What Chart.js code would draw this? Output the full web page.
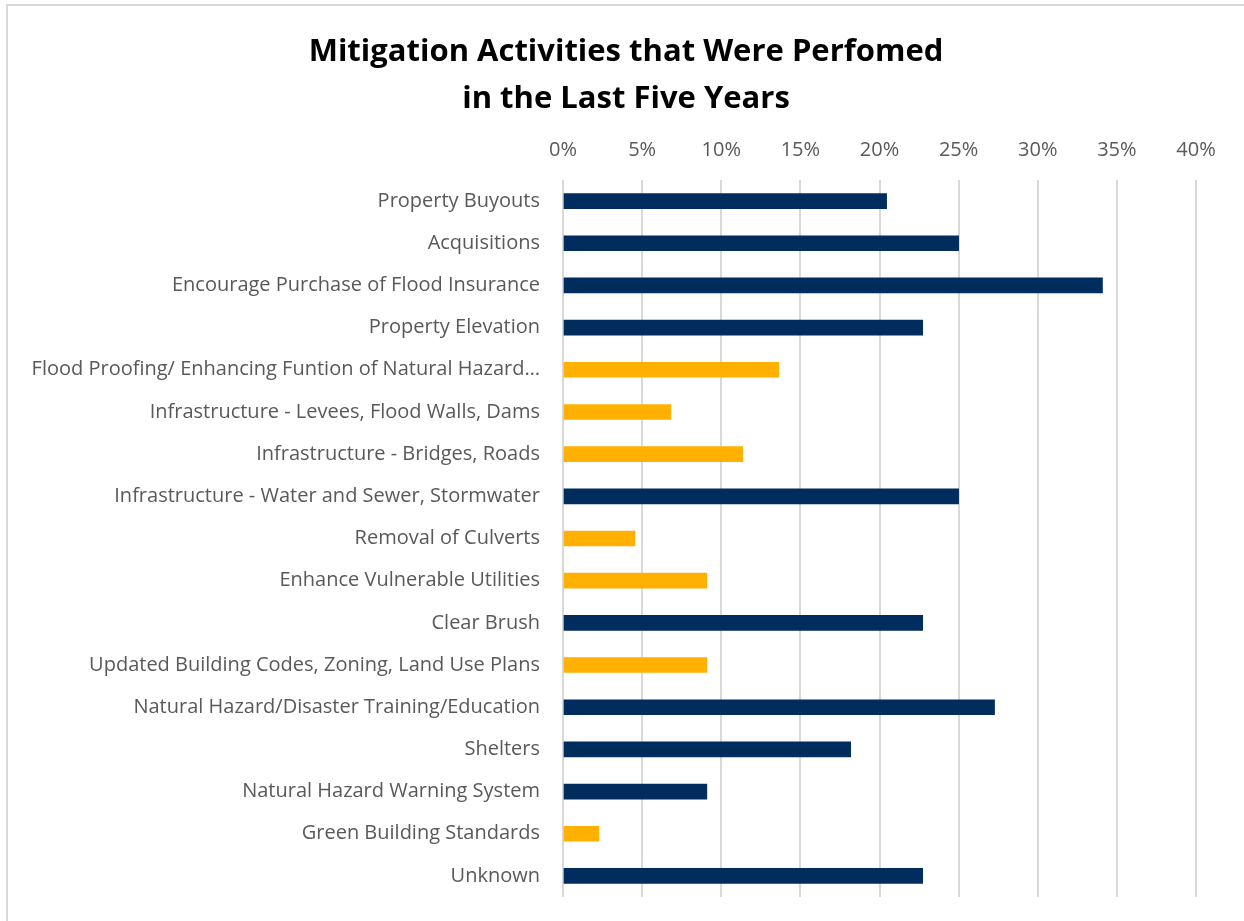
<!DOCTYPE html>
<html>
<head>
<meta charset="utf-8">
<title>Mitigation Activities</title>
<script src="https://cdn.jsdelivr.net/npm/chart.js@4.4.1/dist/chart.umd.min.js"></script>
<style>
  body { margin: 0; background: #fff; overflow: hidden; }
  #frame { position: absolute; left: 6px; top: 4px; width: 1300px; height: 1000px;
           border-left: 2px solid #D9D9D9; border-top: 2px solid #D9D9D9; }
  #chart { position: absolute; left: 0; top: 0; }
  #title { position: absolute; left: 0; top: 26px; width: 1252px; margin: 0; text-align: center;
           font: bold 31px/47px "Open Sans", Lato, sans-serif; color: #000; }
</style>
</head>
<body>
<div id="frame"></div>
<canvas id="chart" width="1244" height="921"></canvas>
<h1 id="title">Mitigation Activities that Were Perfomed<br>in the Last Five Years</h1>
<script>
// survey responses, share of respondents (n = 44)
const activities = [
  'Property Buyouts',
  'Acquisitions',
  'Encourage Purchase of Flood Insurance',
  'Property Elevation',
  'Flood Proofing/ Enhancing Funtion of Natural Hazard\u2026',
  'Infrastructure - Levees, Flood Walls, Dams',
  'Infrastructure - Bridges, Roads',
  'Infrastructure - Water and Sewer, Stormwater',
  'Removal of Culverts',
  'Enhance Vulnerable Utilities',
  'Clear Brush',
  'Updated Building Codes, Zoning, Land Use Plans',
  'Natural Hazard/Disaster Training/Education',
  'Shelters',
  'Natural Hazard Warning System',
  'Green Building Standards',
  'Unknown'
];
const shares = [20.45, 25.0, 34.09, 22.73, 13.64, 6.82, 11.36, 25.0, 4.55, 9.09, 22.73, 9.09, 27.27, 18.18, 9.09, 2.27, 22.73];
// true = highlighted in gold
const highlighted = [false, false, false, false, true, true, true, false, true, true, false, true, false, false, false, true, false];
const xTicks = [0, 5, 10, 15, 20, 25, 30, 35, 40];

const NAVY = '#002D5E';
const GOLD = '#FFB000';
const font = '"Open Sans", Lato, sans-serif';

new Chart(document.getElementById('chart'), {
  type: 'bar',
  data: {
    labels: activities,
    datasets: [{
      data: shares,
      backgroundColor: highlighted.map(h => h ? GOLD : NAVY),
      barThickness: 15
    }]
  },
  options: {
    indexAxis: 'y',
    responsive: false,
    animation: false,
    // top padding leaves room for the html title
    layout: { padding: { top: 120, right: 48, bottom: 24, left: 0 } },
    plugins: {
      legend: { display: false },
      tooltip: { enabled: false }
    },
    scales: {
      x: {
        position: 'top',
        min: 0,
        max: 40,
        afterBuildTicks: s => { s.ticks = xTicks.map(v => ({ value: v })); },
        ticks: {
          color: '#595959',
          font: { family: font, size: 20 },
          padding: 18,
          callback: v => v + '%'
        },
        grid: { color: '#D9D9D9', lineWidth: 2, drawTicks: false },
        border: { display: false }
      },
      y: {
        // fixed label column; drop the extra end padding the tick gap would add
        afterFit: s => { s.width = 563; s.paddingTop = 0; s.paddingBottom = 0; },
        ticks: {
          color: '#595959',
          font: { family: font, size: 20 },
          padding: 23,
          autoSkip: false
        },
        grid: { display: false, drawTicks: false },
        border: { display: false }
      }
    }
  }
});
</script>
</body>
</html>
